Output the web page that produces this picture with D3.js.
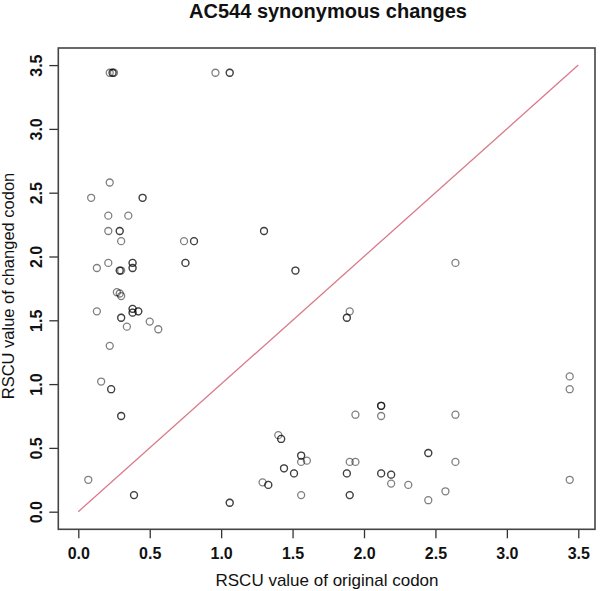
<!DOCTYPE html>
<html>
<head>
<meta charset="utf-8">
<script src="https://cdn.jsdelivr.net/npm/d3@7"></script>
<style>
  html, body { margin: 0; padding: 0; background: #fff; }
  svg { display: block; font-family: "Liberation Sans", Arial, Helvetica, sans-serif; }
</style>
</head>
<body>
<svg id="chart" width="600" height="591"></svg>
<script>
// ---- Data ----
const chartTitle = "AC544 synonymous changes";
const xAxisTitle = "RSCU value of original codon";
const yAxisTitle = "RSCU value of changed codon";
const xTicks = [0.0, 0.5, 1.0, 1.5, 2.0, 2.5, 3.0, 3.5];
const yTicks = [0.0, 0.5, 1.0, 1.5, 2.0, 2.5, 3.0, 3.5];
const diagonal = [0, 3.5];

// RSCU of original codon (x) and of changed codon (y); repeated pairs overlap and look darker
const originalRSCU = [
  0.22, 0.24, 0.24, 0.25, 0.96, 1.06, 1.06,
  0.22, 0.09, 0.45, 0.45, 0.21, 0.35, 0.21, 0.29, 0.29,
  0.30, 0.74, 0.81, 0.81, 0.13, 0.21, 0.29, 0.29, 0.30,
  0.38, 0.38, 0.38, 0.38, 0.75, 0.75, 0.27, 0.29, 0.30,
  0.13, 0.30, 0.30, 0.38, 0.38, 0.38, 0.38, 0.42, 0.42,
  0.34, 0.50, 0.56, 0.22, 0.16, 0.23, 0.23, 0.30, 0.30,
  0.07, 0.39, 0.39, 1.06, 1.06,
  1.30, 1.30, 1.52, 1.52, 2.64, 1.90, 1.88, 1.88,
  3.44, 3.44, 2.12, 2.12, 2.12, 1.94, 2.12, 2.64,
  1.40, 1.42, 1.42, 1.56, 1.56, 1.56, 1.60, 1.90, 1.94,
  2.45, 2.45, 2.64, 1.44, 1.44, 1.51, 1.51, 1.88, 1.88,
  2.12, 2.12, 2.19, 2.19, 2.19, 2.31, 1.29, 1.33, 1.33,
  1.56, 1.90, 1.90, 2.45, 2.57, 3.44
];
const changedRSCU = [
  3.44, 3.44, 3.44, 3.44, 3.44, 3.44, 3.44,
  2.58, 2.46, 2.46, 2.46, 2.32, 2.32, 2.20, 2.20, 2.20,
  2.12, 2.12, 2.12, 2.12, 1.91, 1.95, 1.89, 1.89, 1.89,
  1.95, 1.95, 1.91, 1.91, 1.95, 1.95, 1.72, 1.71, 1.69,
  1.57, 1.52, 1.52, 1.59, 1.59, 1.56, 1.56, 1.57, 1.57,
  1.45, 1.49, 1.43, 1.30, 1.02, 0.96, 0.96, 0.75, 0.75,
  0.25, 0.13, 0.13, 0.07, 0.07,
  2.20, 2.20, 1.89, 1.89, 1.95, 1.57, 1.52, 1.52,
  1.06, 0.96, 0.83, 0.83, 0.83, 0.76, 0.75, 0.76,
  0.60, 0.57, 0.57, 0.44, 0.44, 0.39, 0.40, 0.39, 0.39,
  0.46, 0.46, 0.39, 0.34, 0.34, 0.30, 0.30, 0.30, 0.30,
  0.30, 0.30, 0.29, 0.29, 0.22, 0.21, 0.23, 0.21, 0.21,
  0.13, 0.13, 0.13, 0.09, 0.16, 0.25
];

// ---- Layout ----
const plot = { left: 58.3, right: 595, top: 48, bottom: 529.3 };
const svg = d3.select("#chart");

const x = d3.scaleLinear().domain([-0.14, 3.617]).range([plot.left, plot.right]);
const y = d3.scaleLinear().domain([-0.138, 3.634]).range([plot.bottom, plot.top]);

// Title
svg.append("text")
  .attr("x", 328).attr("y", 18)
  .attr("text-anchor", "middle")
  .attr("font-size", 20).attr("font-weight", "bold")
  .attr("fill", "#111")
  .text(chartTitle);

// X axis
const xAxis = d3.axisBottom(x).tickValues(xTicks).tickFormat(d3.format(".1f")).tickSize(9).tickPadding(9);
const gx = svg.append("g").attr("transform", `translate(0,${plot.bottom})`).call(xAxis);
gx.select(".domain").remove();
gx.selectAll(".tick line").attr("stroke", "#333").attr("stroke-width", 1.3);
gx.selectAll(".tick text").attr("font-size", 16).attr("font-weight", "bold")
  .attr("fill", "#111").attr("font-family", "Liberation Sans, Arial, sans-serif");

// Y axis
const yAxis = d3.axisLeft(y).tickValues(yTicks).tickFormat(d3.format(".1f")).tickSize(9).tickPadding(0);
const gy = svg.append("g").attr("transform", `translate(${plot.left},0)`).call(yAxis);
gy.select(".domain").remove();
gy.selectAll(".tick line").attr("stroke", "#333").attr("stroke-width", 1.3);
gy.selectAll(".tick text")
  .attr("x", null).attr("dy", null)
  .attr("text-anchor", "middle")
  .attr("transform", "translate(-16.5,0) rotate(-90)")
  .attr("y", 0)
  .attr("font-size", 16).attr("font-weight", "bold")
  .attr("fill", "#111").attr("font-family", "Liberation Sans, Arial, sans-serif");

// Axis titles
svg.append("text")
  .attr("x", 327).attr("y", 586)
  .attr("text-anchor", "middle")
  .attr("font-size", 17).attr("fill", "#111")
  .text(xAxisTitle);

svg.append("text")
  .attr("transform", "translate(13.5,286) rotate(-90)")
  .attr("text-anchor", "middle")
  .attr("font-size", 16.5).attr("fill", "#111")
  .text(yAxisTitle);

// Diagonal reference line
svg.append("line")
  .attr("x1", x(diagonal[0])).attr("y1", y(diagonal[0]))
  .attr("x2", x(diagonal[1])).attr("y2", y(diagonal[1]))
  .attr("stroke", "#d97a8a").attr("stroke-width", 1.3);

// Points
const points = originalRSCU.map((v, i) => ({ x: v, y: changedRSCU[i] }));
svg.append("g").selectAll("circle")
  .data(points).join("circle")
  .attr("cx", d => x(d.x)).attr("cy", d => y(d.y))
  .attr("r", 3.5)
  .attr("fill", "none")
  .attr("stroke", "#000")
  .attr("stroke-opacity", 0.5)
  .attr("stroke-width", 1.3);

// Plot frame
svg.append("rect")
  .attr("x", plot.left).attr("y", plot.top)
  .attr("width", plot.right - plot.left).attr("height", plot.bottom - plot.top)
  .attr("fill", "none").attr("stroke", "#444").attr("stroke-width", 1.6);
</script>
</body>
</html>
